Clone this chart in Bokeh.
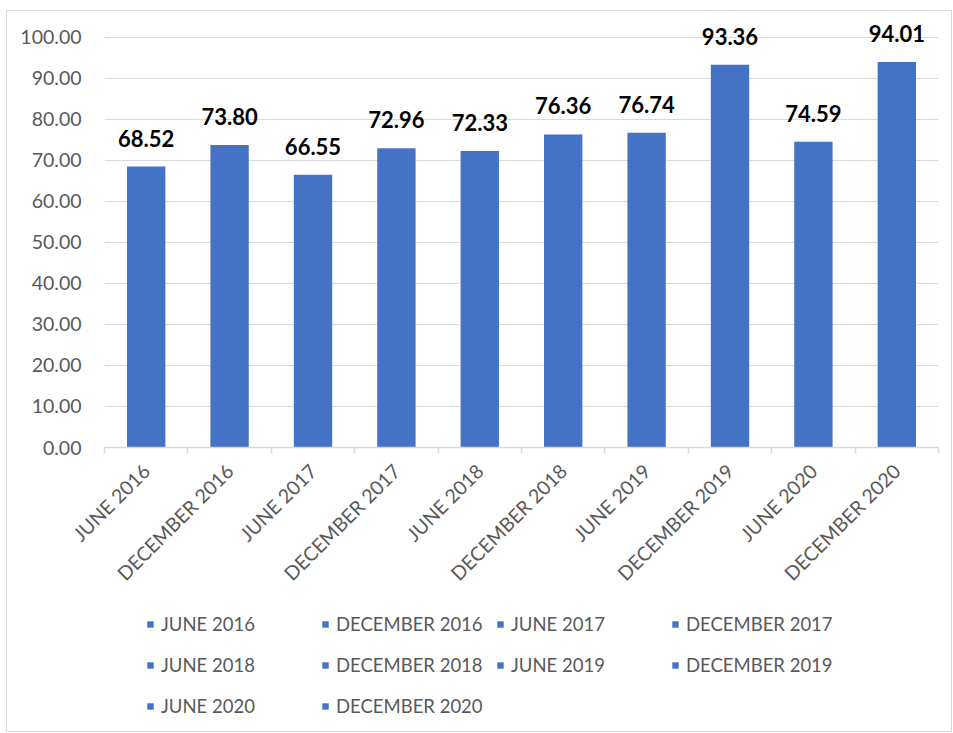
import math
from bokeh.plotting import figure
from bokeh.layouts import column
from bokeh.models import (ColumnDataSource, FixedTicker, NumeralTickFormatter,
                          Legend, LegendItem, Range1d)
from bokeh.core.properties import value
from bokeh.embed import file_html
from bokeh.resources import INLINE

categories = ["JUNE 2016", "DECEMBER 2016", "JUNE 2017", "DECEMBER 2017",
              "JUNE 2018", "DECEMBER 2018", "JUNE 2019", "DECEMBER 2019",
              "JUNE 2020", "DECEMBER 2020"]
values = [68.52, 73.80, 66.55, 72.96, 72.33, 76.36, 76.74, 93.36, 74.59, 94.01]
y_ticks = [0, 10, 20, 30, 40, 50, 60, 70, 80, 90, 100]

FONT = "Lato"
GRAY = "#595959"
GRID = "#d9d9d9"
BLUE = "#4472C4"

xs = list(range(len(categories)))
src = ColumnDataSource(dict(x=xs, y=values, cat=categories,
                            lbl=[f"{v:.2f}" for v in values]))

# frame extends slightly above 100 so the top data labels are not clipped
p = figure(width=944, height=586, output_backend="svg", toolbar_location=None,
           x_range=Range1d(-0.5, len(categories) - 0.5), y_range=Range1d(0, 106.34),
           min_border_left=97, min_border_right=13, min_border_top=0,
           min_border_bottom=150)
p.outline_line_color = None
p.background_fill_color = "white"
p.border_fill_color = "white"

bars = p.vbar(x="x", top="y", width=0.46, source=src, fill_color=BLUE,
              line_color=None)
p.text(x="x", y="y", text="lbl", source=src, text_align="center",
       text_baseline="bottom", y_offset=-20, text_font=value(FONT),
       text_font_style="bold", text_font_size="22px", text_color="black")

# y axis
p.yaxis.ticker = FixedTicker(ticks=y_ticks)
p.yaxis.formatter = NumeralTickFormatter(format="0.00")
p.yaxis.axis_line_color = None
p.yaxis.major_tick_line_color = None
p.yaxis.minor_tick_line_color = None
p.yaxis.major_label_standoff = 17
p.yaxis.major_label_text_font = FONT
p.yaxis.major_label_text_font_size = "19.5px"
p.yaxis.major_label_text_color = GRAY

p.ygrid.ticker = FixedTicker(ticks=y_ticks)
p.ygrid.grid_line_color = GRID
p.ygrid.grid_line_width = 1
p.xgrid.grid_line_color = None

# x axis: labels at centers, tick marks at category boundaries
p.xaxis.ticker = FixedTicker(ticks=xs, minor_ticks=[i - 0.5 for i in range(len(xs) + 1)])
p.xaxis.major_label_overrides = {i: c for i, c in zip(xs, categories)}
p.xaxis.major_label_orientation = math.pi / 4
p.xaxis.axis_line_color = GRID
p.xaxis.axis_line_width = 1.5
p.xaxis.major_tick_line_color = None
p.xaxis.minor_tick_line_color = GRID
p.xaxis.minor_tick_line_width = 1.5
p.xaxis.minor_tick_out = 6
p.xaxis.minor_tick_in = 0
p.xaxis.major_label_standoff = 14
p.xaxis.major_label_text_font = FONT
p.xaxis.major_label_text_font_size = "19.5px"
p.xaxis.major_label_text_color = GRAY

# legend strip below the chart (its bars are kept far outside the visible range)
pl = figure(width=944, height=134, output_backend="svg", toolbar_location=None,
            x_range=Range1d(1000, 1001), y_range=Range1d(1000, 1001),
            x_axis_location=None, y_axis_location=None,
            min_border=0)
pl.grid.visible = False
pl.outline_line_color = None
pl.background_fill_color = "white"
pl.border_fill_color = "white"
lbars = pl.vbar(x="x", top="y", width=0.46, source=src, fill_color=BLUE,
                line_color=None)

items = [LegendItem(label=c, renderers=[lbars], index=i) for i, c in enumerate(categories)]
legend = Legend(items=items, orientation="horizontal", ncols=4,
                location=(42, 5), glyph_width=8, glyph_height=8,
                label_standoff=7, label_width=160, label_height=41, spacing=0,
                padding=0, margin=0, border_line_color=None,
                background_fill_alpha=0, label_text_font=FONT,
                label_text_font_size="18.5px", label_text_color=GRAY)
pl.add_layout(legend, "center")

layout = column(p, pl, spacing=0,
                styles={"border": "1px solid #d9d9d9", "margin": "10px 0 0 6px"})

open("out.html", "w").write(file_html(layout, INLINE))
